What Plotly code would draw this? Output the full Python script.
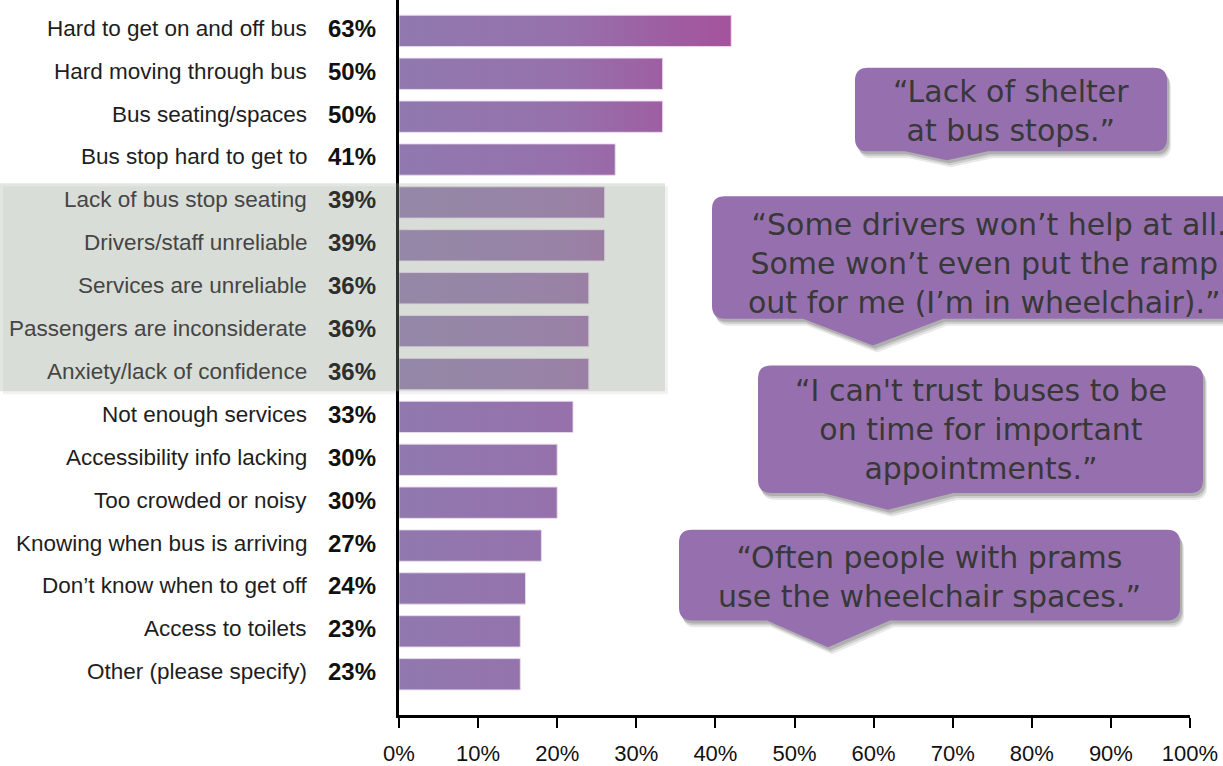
import plotly.graph_objects as go

# Survey responses: barriers to using the bus (top to bottom)
categories = [
    "Hard to get on and off bus",
    "Hard moving through bus",
    "Bus seating/spaces",
    "Bus stop hard to get to",
    "Lack of bus stop seating",
    "Drivers/staff unreliable",
    "Services are unreliable",
    "Passengers are inconsiderate",
    "Anxiety/lack of confidence",
    "Not enough services",
    "Accessibility info lacking",
    "Too crowded or noisy",
    "Knowing when bus is arriving",
    "Don\u2019t know when to get off",
    "Access to toilets",
    "Other (please specify)",
]
percent = [63, 50, 50, 41, 39, 39, 36, 36, 36, 33, 30, 30, 27, 24, 23, 23]
highlighted = [4, 5, 6, 7, 8]

tick_percents = [0, 10, 20, 30, 40, 50, 60, 70, 80, 90, 100]
tick_labels = [f"{t}%" for t in tick_percents]
axis_scale = 1.5  # axis units per printed percent on the tick labels

quotes = [
    "\u201cLack of shelter<br>at bus stops.\u201d",
    " \u201cSome drivers won\u2019t help at all.<br>Some won\u2019t even put the ramp<br>out for me (I\u2019m in wheelchair).\u201d",
    "\u201cI can't trust buses to be<br>on time for important<br>appointments.\u201d",
    "\u201cOften people with prams<br>use the wheelchair spaces.\u201d",
]

# ---- page geometry (pixels) ----
W, H = 1223, 766
L, R, T, B = 399, 1190, 0, 718


def px(x):
    return (x - L) / (R - L)


def py(y):
    return (B - y) / (B - T)


# ---- bars as filled polygons so the fill can carry a horizontal gradient ----
half = 0.365
xs, ys = [], []
for i, v in enumerate(percent):
    xs += [0, v, v, 0, 0, None]
    ys += [i - half, i - half, i + half, i + half, i - half, None]

fig = go.Figure()
fig.add_trace(go.Scatter(
    x=xs, y=ys, mode="lines", fill="toself",
    line=dict(width=1, color="rgba(235,220,240,0.9)"),
    fillgradient=dict(type="horizontal",
                      colorscale=[[0, "#9079ae"], [0.5, "#9671ab"], [1, "#a4529c"]],
                      start=0, stop=max(percent)),
    hoverinfo="skip", showlegend=False,
))

shapes = []
annotations = []

# grey translucent highlight band over the middle group
shapes.append(dict(type="rect", xref="paper", yref="paper",
                   x0=px(3), x1=px(668), y0=py(396), y1=py(187),
                   fillcolor="rgba(0,0,0,0.05)", line=dict(width=0), layer="below"))
shapes.append(dict(type="rect", xref="paper", yref="paper",
                   x0=px(0), x1=px(665), y0=py(393), y1=py(184),
                   fillcolor="rgba(158,172,152,0.30)", line=dict(width=0), layer="above"))

# row labels: category name + bold percentage
for i, (c, v) in enumerate(zip(categories, percent)):
    inside = i in highlighted
    annotations.append(dict(
        x=px(309), xref="paper", y=i - 0.06, yref="y", text=c, showarrow=False,
        xanchor="right", yanchor="middle",
        font=dict(family="Liberation Sans, Arial", size=22.5,
                  color="#454545" if inside else "#1e1e1e")))
    annotations.append(dict(
        x=px(378), xref="paper", y=i - 0.06, yref="y", text=f"<b>{v}%</b>", showarrow=False,
        xanchor="right", yanchor="middle",
        font=dict(family="Liberation Sans, Arial", size=24,
                  color="#2e2e2e" if inside else "#111111")))


# ---- speech-bubble callouts ----
def bubble(x0, y0, x1, y1, bx0, bx1, tx, ty, dx=0, dy=0, r=13):
    pts = [
        ("M", (x0 + r, y0)), ("L", (x1 - r, y0)), ("Q", (x1, y0), (x1, y0 + r)),
        ("L", (x1, y1 - r)), ("Q", (x1, y1), (x1 - r, y1)),
        ("L", (bx1, y1)), ("L", (tx, ty)), ("L", (bx0, y1)),
        ("L", (x0 + r, y1)), ("Q", (x0, y1), (x0, y1 - r)),
        ("L", (x0, y0 + r)), ("Q", (x0, y0), (x0 + r, y0)),
    ]
    out = []
    for p in pts:
        cmd = p[0]
        coords = " ".join(f"{px(a + dx):.5f},{py(b + dy):.5f}" for a, b in p[1:])
        out.append(f"{cmd} {coords}")
    return " ".join(out) + " Z"


bubbles = [
    # box x0, y0, x1, y1, pointer base x0, x1, tip x, tip y, text centre x, y
    (855, 68, 1167, 152, 905, 988, 947, 161, 1011, 111),
    (712, 197, 1300, 320, 803, 943, 873, 347, 984, 265),
    (758, 367, 1203, 495, 823, 953, 888, 512, 981, 431),
    (679, 532, 1180, 623, 767, 890, 828, 650, 929, 579),
]

for (x0, y0, x1, y1, bx0, bx1, tx, ty, cx, cy), q in zip(bubbles, quotes):
    for (dx, dy, a) in [(4, 7, 0.10), (3, 5, 0.14), (2, 3, 0.18)]:
        shapes.append(dict(type="path", xref="paper", yref="paper",
                           path=bubble(x0, y0, x1, y1, bx0, bx1, tx, ty, dx, dy),
                           fillcolor=f"rgba(40,40,40,{a})", line=dict(width=0),
                           layer="above"))
    shapes.append(dict(type="path", xref="paper", yref="paper",
                       path=bubble(x0, y0, x1, y1, bx0, bx1, tx, ty),
                       fillcolor="#9670ae", line=dict(width=0), layer="above"))
    annotations.append(dict(
        x=px(cx), y=py(cy), xref="paper", yref="paper", text=q, showarrow=False,
        xanchor="center", yanchor="middle", align="center",
        font=dict(family="DejaVu Sans", size=30, color="#383838")))

fig.update_layout(
    width=W, height=H,
    margin=dict(l=L, r=W - R, t=T, b=H - B, pad=0),
    paper_bgcolor="white", plot_bgcolor="white",
    shapes=shapes, annotations=annotations,
    showlegend=False,
    xaxis=dict(
        range=[0, 100 * axis_scale],
        tickvals=[t * axis_scale for t in tick_percents], ticktext=tick_labels,
        showgrid=False, zeroline=False,
        showline=True, linecolor="black", linewidth=3,
        ticks="outside", ticklen=10, tickwidth=2, tickcolor="black",
        tickfont=dict(family="Liberation Sans, Arial", size=22, color="#111111"),
        ticklabelstandoff=7, fixedrange=True,
    ),
    yaxis=dict(
        range=[15.95, -0.72],
        showticklabels=False, showgrid=False, zeroline=False,
        showline=True, linecolor="black", linewidth=3, ticks="",
        fixedrange=True,
    ),
)

fig.write_html("out.html")
